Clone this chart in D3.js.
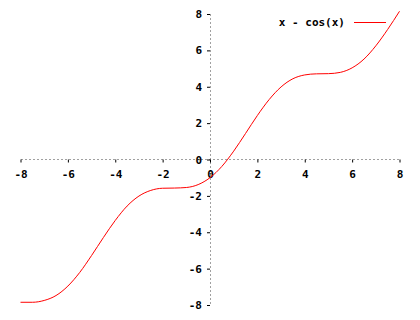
<!DOCTYPE html>
<html><head><meta charset="utf-8">
<script src="https://cdn.jsdelivr.net/npm/d3@7"></script>
<style>body{margin:0;background:#fff}svg{display:block}</style>
</head><body>
<script>
const xs = [-8,-7.5,-7,-6.5,-6,-5.5,-5,-4.5,-4,-3.5,-3,-2.5,-2,-1.5,-1,-0.5,0,0.5,1,1.5,2,2.5,3,3.5,4,4.5,5,5.5,6,6.5,7,7.5,8];
const ys = [-7.85,-7.85,-7.75,-7.48,-6.96,-6.21,-5.28,-4.29,-3.35,-2.56,-2.01,-1.70,-1.58,-1.57,-1.54,-1.38,-1.00,-0.38,0.46,1.43,2.42,3.30,3.99,4.44,4.65,4.71,4.72,4.79,5.04,5.52,6.25,7.15,8.15];
const xTicks = [-8,-6,-4,-2,0,2,4,6,8];
const yTicks = [-8,-6,-4,-2,0,2,4,6,8];
const seriesName = "x - cos(x)";

const W=420,H=320;
const svg=d3.select("body").append("svg").attr("width",W).attr("height",H);
const x=d3.scaleLinear().domain([-8,8]).range([20.5,399.5]);
const y=d3.scaleLinear().domain([-8,8]).range([305,14]);
const font="'DejaVu Sans Mono', monospace";

// zero axes dotted
svg.append("line").attr("x1",x(-8)).attr("x2",x(8)).attr("y1",y(0)).attr("y2",y(0))
  .attr("stroke","#a0a0a0").attr("stroke-dasharray","2,2").attr("shape-rendering","crispEdges");
svg.append("line").attr("x1",x(0)).attr("x2",x(0)).attr("y1",y(8)).attr("y2",y(-8))
  .attr("stroke","#a0a0a0").attr("stroke-dasharray","2,2").attr("shape-rendering","crispEdges");

// x ticks
const gx=svg.append("g").attr("transform",`translate(0,${y(0)})`);
gx.call(d3.axisBottom(x).tickValues(xTicks).tickSize(3).tickPadding(8).tickFormat(d3.format("d")));
gx.select(".domain").remove();
gx.selectAll("line").attr("stroke","#000");
gx.selectAll("text").attr("font-family",font).attr("font-weight","bold").attr("font-size","11px").attr("fill","#000")
  .text(d=>d<0?"-"+Math.abs(d):d);

// y ticks
const gy=svg.append("g").attr("transform",`translate(${x(0)},0)`);
gy.call(d3.axisLeft(y).tickValues(yTicks).tickSize(3).tickPadding(5).tickFormat(d3.format("d")));
gy.select(".domain").remove();
gy.selectAll("line").attr("stroke","#000");
gy.selectAll("text").attr("font-family",font).attr("font-weight","bold").attr("font-size","11px").attr("fill","#000")
  .text(d=>d<0?"-"+Math.abs(d):d);

// curve
const data=xs.map((v,i)=>[v,ys[i]]);
svg.append("path").datum(data)
  .attr("d",d3.line().x(d=>x(d[0])).y(d=>y(d[1])).curve(d3.curveMonotoneX))
  .attr("fill","none").attr("stroke","#ff0000").attr("stroke-width",1);

// legend
svg.append("text").attr("x",345).attr("y",26).attr("text-anchor","end")
  .attr("font-family",font).attr("font-weight","bold").attr("font-size","11px").text(seriesName);
svg.append("line").attr("x1",354).attr("x2",386).attr("y1",22.5).attr("y2",22.5).attr("stroke","#ff0000");
</script>
</body></html>
